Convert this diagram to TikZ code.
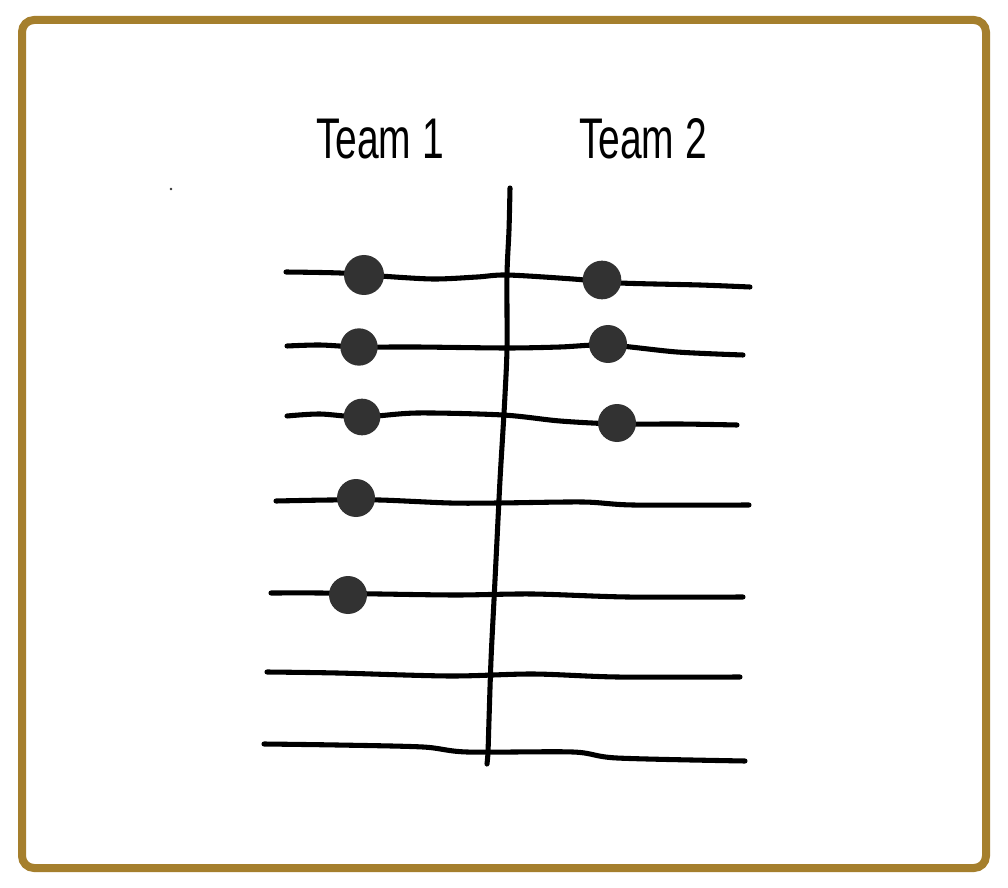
\documentclass[tikz,border=0pt]{standalone}
\usepackage{fontspec}
\usepackage{graphicx}
\setmainfont{Liberation Sans}
\definecolor{frame}{HTML}{A57F2D}
\definecolor{dotgray}{HTML}{323232}
\tikzset{
  stroke/.style={line width=3.8pt, line cap=round, line join=round, black},
  dot/.style={circle, fill=dotgray, inner sep=0pt, minimum size=#1},
  dot/.default=28.5pt,
  teamlabel/.style={font=\fontsize{43}{46}\selectfont, inner sep=0pt, anchor=base}
}
\begin{document}
\begin{tikzpicture}[x=0.75pt, y=-0.75pt]
\useasboundingbox (0,0) rectangle (1008,888);
\fill[white] (0,0) rectangle (1008,888);
\draw[frame, line width=6pt, rounded corners=9pt] (22,20) rectangle (986,868);

% titles
\node[teamlabel] (t1) at (380,159) {\scalebox{0.68}[1]{Team 1}};
\node[teamlabel] (t2) at (643,159) {\scalebox{0.68}[1]{Team 2}};

% stray mark
\fill[black!80] (171,189) circle (1pt);

% horizontal lines
\draw[stroke] plot[smooth, tension=0.5] coordinates {(286,272) (340,273) (380,276) (433,279) (477,277) (507,275) (573,279) (620,283) (700,285) (750,287)};
\draw[stroke] plot[smooth, tension=0.5] coordinates {(287,346) (320,345) (359,347) (417,347) (507,348) (560,347) (608,345) (677,352) (743,355)};
\draw[stroke] plot[smooth, tension=0.5] coordinates {(287,416) (320,414) (362,417) (417,413) (503,415) (560,421) (617,424) (680,424) (737,425)};
\draw[stroke] plot[smooth, tension=0.5] coordinates {(276,501) (330,500) (380,500) (450,503) (498,503) (583,502) (633,505) (749,505)};
\draw[stroke] plot[smooth, tension=0.5] coordinates {(271,593) (320,593) (380,594) (457,595) (533,594) (627,597) (743,597)};
\draw[stroke] plot[smooth, tension=0.5] coordinates {(267,672) (337,673) (450,676) (533,674) (617,677) (740,677)};
\draw[stroke] plot[smooth, tension=0.5] coordinates {(264,744) (337,745) (423,747) (467,752) (573,752) (617,758) (745,761)};

% vertical divider
\draw[stroke] plot[smooth, tension=0.5] coordinates {(510,188) (509,230) (507,275) (507,348) (505,395) (503,430) (500,480) (497,540) (494,600) (491,660) (489,720) (488,752) (487,764)};

% dots
\node[dot=30pt] (a1) at (364,275) {};
\node[dot=29pt] (b1) at (602,280) {};
\node[dot=28pt] (a2) at (359,347) {};
\node[dot=28.5pt] (b2) at (608,344) {};
\node[dot=27.5pt] (a3) at (362,417) {};
\node[dot=28.5pt] (b3) at (617,423) {};
\node[dot=28.5pt] (a4) at (356,498) {};
\node[dot=28.5pt] (a5) at (348,595) {};
\end{tikzpicture}
\end{document}
